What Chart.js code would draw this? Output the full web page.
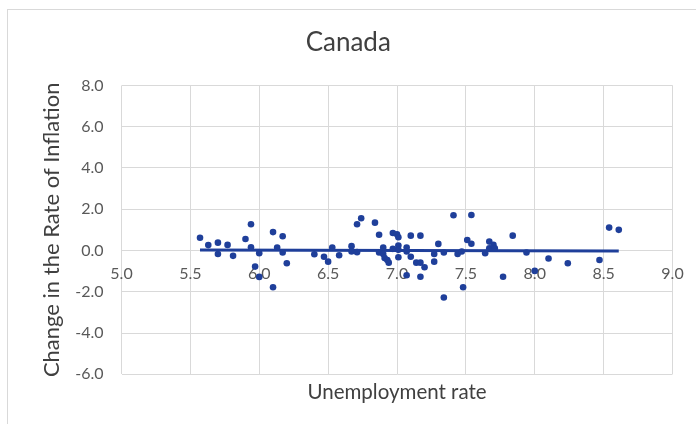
<!DOCTYPE html>
<html>
<head>
<meta charset="utf-8">
<script src="https://cdn.jsdelivr.net/npm/chart.js@4/dist/chart.umd.min.js"></script>
<style>
  html, body { margin: 0; padding: 0; background: #ffffff; }
  #wrap { position: relative; width: 696px; height: 424px; overflow: hidden; }
  #frame { position: absolute; left: 7px; top: 9px; width: 720px; height: 440px; border: 1px solid #d9d9d9; box-sizing: border-box; }
  #chart { position: absolute; left: 0; top: 0; }
</style>
</head>
<body>
<div id="wrap">
  <div id="frame"></div>
  <canvas id="chart" width="696" height="424"></canvas>
</div>
<script>
// Unemployment rate (x) and change in the rate of inflation (y), one pair per observation
const unemploymentRate = [
  5.57, 5.63, 5.70, 5.70, 5.77, 5.81, 5.90, 5.94, 5.94, 5.97,
  6.00, 6.00, 6.10, 6.10, 6.13, 6.17, 6.17, 6.20, 6.40, 6.47,
  6.50, 6.53, 6.58, 6.67, 6.67, 6.71, 6.71, 6.74, 6.84, 6.87,
  6.87, 6.90, 6.90, 6.91, 6.93, 6.94, 6.97, 6.97, 7.00, 7.01,
  7.01, 7.01, 7.01, 7.07, 7.07, 7.07, 7.10, 7.10, 7.14, 7.17,
  7.17, 7.17, 7.20, 7.27, 7.27, 7.30, 7.34, 7.34, 7.41, 7.44,
  7.48, 7.51, 7.47, 7.54, 7.54, 7.64, 7.67, 7.67, 7.70, 7.71,
  7.77, 7.84, 7.94, 8.00, 8.10, 8.24, 8.47, 8.54, 8.61
];
const inflationChange = [
  0.62, 0.26, 0.38, -0.17, 0.27, -0.26, 0.56, 1.27, 0.16, -0.78,
  -0.13, -1.28, 0.89, -1.78, 0.14, 0.69, -0.10, -0.62, -0.18, -0.30,
  -0.54, 0.14, -0.23, 0.21, -0.05, -0.08, 1.27, 1.56, 1.35, 0.76,
  -0.10, 0.14, -0.17, -0.37, -0.46, -0.59, 0.85, 0.08, 0.79, 0.64,
  0.24, 0.03, -0.33, 0.14, -0.05, -1.20, 0.72, -0.30, -0.59, 0.72,
  -0.59, -1.27, -0.81, -0.17, -0.54, 0.32, -0.10, -2.28, 1.71, -0.17,
  -1.78, 0.51, -0.05, 1.72, 0.33, -0.13, 0.43, 0.11, 0.27, 0.11,
  -1.27, 0.72, -0.10, -0.99, -0.39, -0.62, -0.46, 1.11, 1.00
];

// Linear trendline end points
const trendX = [5.57, 8.61];
const trendY = [0.02, -0.03];

// Axis tick settings
const xTicks = { min: 5.0, max: 9.0, step: 0.5 };
const yTicks = { min: -6.0, max: 8.0, step: 2.0 };

const chartTitle = 'Canada';
const xTitle = 'Unemployment rate';
const yTitle = 'Change in the Rate of Inflation';

const blue = '#1f3f9a';
const gridColor = '#d9d9d9';
const fontFamily = 'Lato, "Open Sans", sans-serif';

const points = unemploymentRate.map((x, i) => ({ x: x, y: inflationChange[i] }));
const trend = trendX.map((x, i) => ({ x: x, y: trendY[i] }));

new Chart(document.getElementById('chart'), {
  type: 'scatter',
  data: {
    datasets: [
      {
        label: 'Canada',
        data: points,
        backgroundColor: blue,
        borderColor: blue,
        pointRadius: 3.3,
        pointBorderWidth: 0,
        pointHoverRadius: 3.3
      },
      {
        label: 'Linear trend',
        type: 'line',
        data: trend,
        borderColor: blue,
        borderWidth: 3,
        pointRadius: 0,
        fill: false
      }
    ]
  },
  options: {
    responsive: false,
    animation: false,
    events: [],
    layout: { padding: { left: 24, right: 23.5, top: 10, bottom: 10 } },
    plugins: {
      legend: { display: false },
      tooltip: { enabled: false },
      title: {
        display: true,
        text: chartTitle,
        color: '#404040',
        font: { family: fontFamily, size: 26, weight: 'normal' },
        padding: { top: 17.4, bottom: 26.8 }
      }
    },
    scales: {
      x: {
        type: 'linear',
        position: 'bottom',
        min: xTicks.min,
        max: xTicks.max,
        ticks: { display: false, stepSize: xTicks.step },
        grid: { color: gridColor, lineWidth: 1, drawTicks: false },
        border: { display: false },
        title: {
          display: true,
          text: xTitle,
          color: '#404040',
          font: { family: fontFamily, size: 20.5 },
          padding: { top: 0, bottom: 9.7 }
        },
        afterFit: (s) => { s.height = 39.7; s.paddingLeft = 0; s.paddingRight = 0; }
      },
      xLabels: {
        type: 'linear',
        axis: 'x',
        position: { y: 0 },
        min: xTicks.min,
        max: xTicks.max,
        ticks: {
          stepSize: xTicks.step,
          color: '#595959',
          padding: 14,
          maxRotation: 0,
          autoSkip: false,
          font: { family: fontFamily, size: 16 },
          callback: (v) => Number(v).toFixed(1)
        },
        grid: { display: false, drawTicks: false },
        border: { display: false },
        afterFit: (s) => { s.paddingLeft = 0; s.paddingRight = 0; }
      },
      y: {
        type: 'linear',
        position: 'left',
        min: yTicks.min,
        max: yTicks.max,
        ticks: {
          stepSize: yTicks.step,
          color: '#595959',
          padding: 18,
          font: { family: fontFamily, size: 16 },
          callback: (v) => Number(v).toFixed(1)
        },
        grid: { color: gridColor, lineWidth: 1, drawTicks: false },
        border: { display: false },
        title: {
          display: true,
          text: yTitle,
          color: '#404040',
          font: { family: fontFamily, size: 22 },
          padding: { top: 14.8, bottom: 0 }
        },
        afterFit: (s) => { s.width = 97.5; }
      }
    }
  }
});
</script>
</body>
</html>
